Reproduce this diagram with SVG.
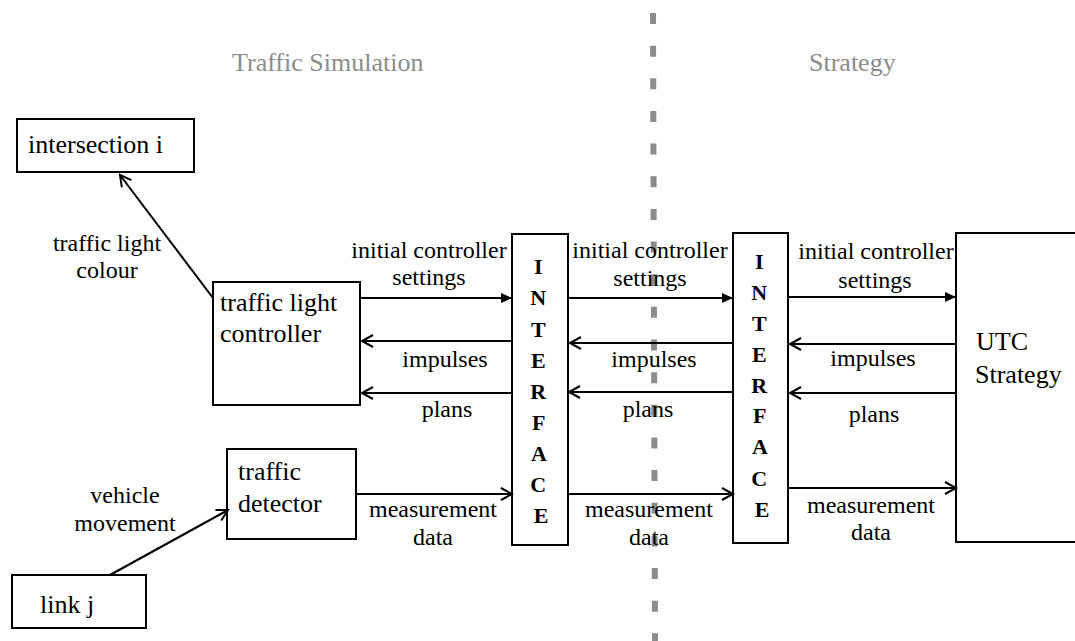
<svg xmlns="http://www.w3.org/2000/svg" width="1075" height="641" viewBox="0 0 1075 641">
  <style>
    text { font-family: "Liberation Serif", "Times New Roman", Times, Tinos, "DejaVu Serif", serif; }
    .box { fill: #ffffff; stroke: #000000; stroke-width: 2; }
    .node { font-size: 26px; fill: #000000; }
    .lbl { font-size: 24px; fill: #000000; text-anchor: middle; }
    .iface { font-size: 22px; font-weight: bold; fill: #000000; text-anchor: middle; }
    .title { font-size: 26px; fill: #8c8c8c; }
    .edge { stroke: #000000; stroke-width: 2; fill: none; }
    .solid { marker-end: url(#headFilled); }
    .open { marker-end: url(#headOpen); }
  </style>
  <defs>
    <marker id="headFilled" markerUnits="userSpaceOnUse" markerWidth="14" markerHeight="14" refX="11" refY="6" orient="auto">
      <path d="M0,1 L11,6 L0,11 Z" fill="#000000"/>
    </marker>
    <marker id="headOpen" markerUnits="userSpaceOnUse" markerWidth="16" markerHeight="16" refX="12" refY="7" orient="auto">
      <path d="M1,1 L12,7 L1,13" fill="none" stroke="#000000" stroke-width="2"/>
    </marker>
  </defs>

  <!-- section divider -->
  <line x1="653" y1="13" x2="655" y2="641" stroke="#8c8c8c" stroke-width="6" stroke-dasharray="11 21.65"/>

  <!-- section titles -->
  <text class="title" x="232" y="71">Traffic Simulation</text>
  <text class="title" x="809" y="71">Strategy</text>

  <!-- nodes -->
  <g id="intersection">
    <rect class="box" x="17" y="119" width="177" height="53"/>
    <text class="node" x="28" y="153">intersection i</text>
  </g>
  <g id="controller">
    <rect class="box" x="213" y="282" width="147" height="123"/>
    <text class="node" x="220" y="311">traffic light</text>
    <text class="node" x="220" y="342">controller</text>
  </g>
  <g id="detector">
    <rect class="box" x="227" y="449" width="129" height="90"/>
    <text class="node" x="238" y="480">traffic</text>
    <text class="node" x="238" y="512">detector</text>
  </g>
  <g id="link">
    <rect class="box" x="12" y="575" width="134" height="53"/>
    <text class="node" x="40" y="613">link j</text>
  </g>
  <g id="interface1">
    <rect class="box" x="512" y="234" width="56" height="311"/>
    <text class="iface">
      <tspan x="541" y="274">I</tspan>
      <tspan x="541" y="305">N</tspan>
      <tspan x="541" y="337">T</tspan>
      <tspan x="541" y="368">E</tspan>
      <tspan x="541" y="399">R</tspan>
      <tspan x="541" y="430">F</tspan>
      <tspan x="541" y="461">A</tspan>
      <tspan x="541" y="492">C</tspan>
      <tspan x="541" y="523">E</tspan>
    </text>
  </g>
  <g id="interface2">
    <rect class="box" x="733" y="233" width="55" height="310"/>
    <text class="iface">
      <tspan x="762" y="269">I</tspan>
      <tspan x="762" y="300">N</tspan>
      <tspan x="762" y="331">T</tspan>
      <tspan x="762" y="362">E</tspan>
      <tspan x="762" y="393">R</tspan>
      <tspan x="762" y="423">F</tspan>
      <tspan x="762" y="454">A</tspan>
      <tspan x="762" y="486">C</tspan>
      <tspan x="762" y="517">E</tspan>
    </text>
  </g>
  <g id="utc">
    <rect class="box" x="956" y="233" width="130" height="309"/>
    <text class="node" x="976" y="350">UTC</text>
    <text class="node" x="975" y="383">Strategy</text>
  </g>

  <!-- connectors -->
  <g id="connectors">
    <line class="edge open" x1="213" y1="298" x2="120" y2="175"/>
    <line class="edge open" x1="110" y1="575" x2="228" y2="510"/>

    <line class="edge solid" x1="360" y1="298" x2="512" y2="298"/>
    <line class="edge open" x1="512" y1="341" x2="362" y2="341"/>
    <line class="edge open" x1="512" y1="393" x2="362" y2="393"/>
    <line class="edge open" x1="356" y1="494" x2="512" y2="494"/>

    <line class="edge solid" x1="568" y1="298" x2="733" y2="298"/>
    <line class="edge open" x1="733" y1="343" x2="570" y2="343"/>
    <line class="edge open" x1="733" y1="392" x2="569" y2="392"/>
    <line class="edge open" x1="568" y1="494" x2="733" y2="494"/>

    <line class="edge solid" x1="788" y1="297" x2="956" y2="297"/>
    <line class="edge open" x1="956" y1="344" x2="790" y2="344"/>
    <line class="edge open" x1="955" y1="393" x2="790" y2="393"/>
    <line class="edge open" x1="788" y1="488" x2="956" y2="488"/>
  </g>

  <!-- connector labels -->
  <g id="labels">
    <text class="lbl" x="107" y="251">traffic light</text>
    <text class="lbl" x="107" y="278">colour</text>
    <text class="lbl" x="125" y="503">vehicle</text>
    <text class="lbl" x="125" y="531">movement</text>

    <text class="lbl" x="429" y="258">initial controller</text>
    <text class="lbl" x="429" y="285">settings</text>
    <text class="lbl" x="445" y="367">impulses</text>
    <text class="lbl" x="447" y="417">plans</text>
    <text class="lbl" x="433" y="517">measurement</text>
    <text class="lbl" x="433" y="545">data</text>

    <text class="lbl" x="650" y="258">initial controller</text>
    <text class="lbl" x="650" y="286">settings</text>
    <text class="lbl" x="654" y="367">impulses</text>
    <text class="lbl" x="648" y="417">plans</text>
    <text class="lbl" x="649" y="517">measurement</text>
    <text class="lbl" x="649" y="545">data</text>

    <text class="lbl" x="876" y="259">initial controller</text>
    <text class="lbl" x="875" y="288">settings</text>
    <text class="lbl" x="873" y="366">impulses</text>
    <text class="lbl" x="874" y="422">plans</text>
    <text class="lbl" x="871" y="513">measurement</text>
    <text class="lbl" x="871" y="540">data</text>
  </g>
</svg>
